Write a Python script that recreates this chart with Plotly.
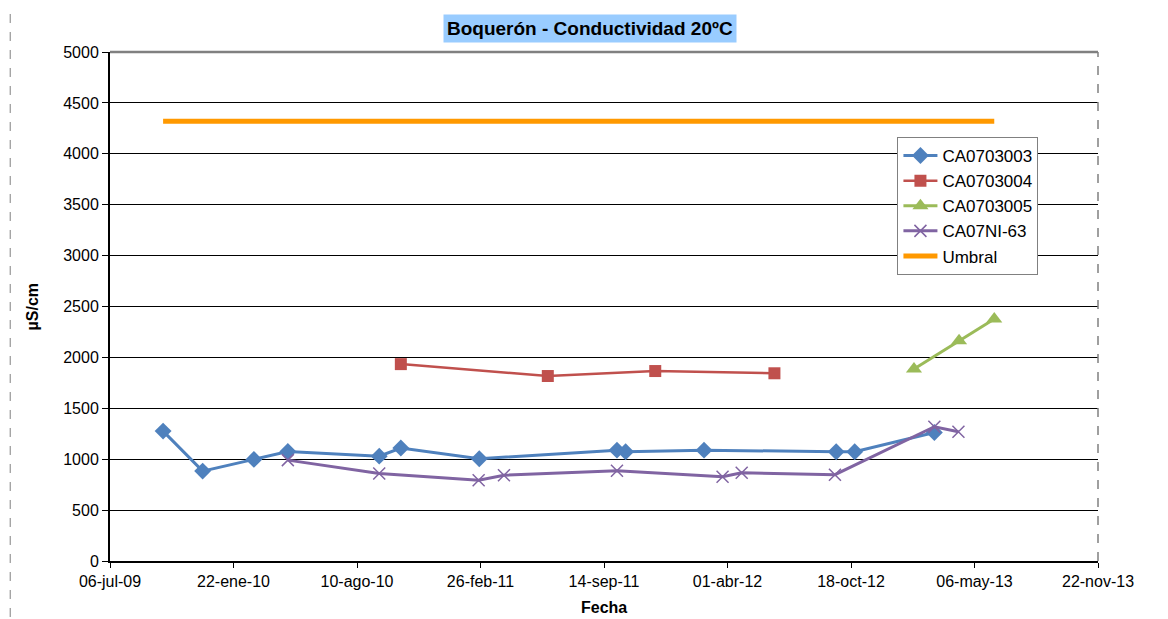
import plotly.graph_objects as go

# ---- data ----
ca0703003_dates = ["2009-09-30", "2009-12-03", "2010-02-24", "2010-04-20", "2010-09-15",
                   "2010-10-20", "2011-02-24", "2011-10-05", "2011-10-19", "2012-02-23",
                   "2012-09-24", "2012-10-24", "2013-03-02"]
ca0703003_vals = [1276, 883, 998, 1075, 1030, 1110, 1004, 1089, 1073, 1089, 1073, 1073, 1262]

ca0703004_dates = ["2010-10-20", "2011-06-15", "2011-12-06", "2012-06-16"]
ca0703004_vals = [1934, 1817, 1866, 1844]

ca0703005_dates = ["2013-01-28", "2013-04-11", "2013-06-07"]
ca0703005_vals = [1886, 2164, 2378]

ca07ni63_dates = ["2010-04-20", "2010-09-15", "2011-02-23", "2011-04-05", "2011-10-05",
                  "2012-03-24", "2012-04-24", "2012-09-22", "2013-03-02", "2013-04-10"]
ca07ni63_vals = [991, 860, 794, 843, 886, 827, 866, 848, 1319, 1269]

umbral_dates = ["2009-09-30", "2013-06-07"]
umbral_vals = [4320, 4320]

x_tick_vals = ["2009-07-06", "2010-01-22", "2010-08-10", "2011-02-26", "2011-09-14",
               "2012-04-01", "2012-10-18", "2013-05-06", "2013-11-22"]
x_tick_text = ["06-jul-09", "22-ene-10", "10-ago-10", "26-feb-11", "14-sep-11",
               "01-abr-12", "18-oct-12", "06-may-13", "22-nov-13"]
y_tick_vals = [0, 500, 1000, 1500, 2000, 2500, 3000, 3500, 4000, 4500, 5000]

FONT = "Arial, Liberation Sans, sans-serif"

fig = go.Figure()
fig.add_trace(go.Scatter(x=ca0703003_dates, y=ca0703003_vals, name="CA0703003",
                         mode="lines+markers",
                         line=dict(color="#4F81BD", width=3),
                         marker=dict(symbol="diamond", size=13, color="#4F81BD")))
fig.add_trace(go.Scatter(x=ca0703004_dates, y=ca0703004_vals, name="CA0703004",
                         mode="lines+markers",
                         line=dict(color="#C0504D", width=2.5),
                         marker=dict(symbol="square", size=12, color="#C0504D")))
fig.add_trace(go.Scatter(x=ca0703005_dates, y=ca0703005_vals, name="CA0703005",
                         mode="lines+markers",
                         line=dict(color="#9BBB59", width=3),
                         marker=dict(symbol="triangle-up", size=14, color="#9BBB59")))
fig.add_trace(go.Scatter(x=ca07ni63_dates, y=ca07ni63_vals, name="CA07NI-63",
                         mode="lines+markers",
                         line=dict(color="#8064A2", width=3),
                         marker=dict(symbol="x-thin", size=12, color="#8064A2",
                                     line=dict(color="#8064A2", width=1.5))))
fig.add_trace(go.Scatter(x=umbral_dates, y=umbral_vals, name="Umbral",
                         mode="lines",
                         line=dict(color="#FF9900", width=5)))

fig.update_layout(
    width=1160, height=611,
    margin=dict(l=102, r=70, t=44, b=58),
    paper_bgcolor="white", plot_bgcolor="white",
    font=dict(family=FONT, size=16, color="black"),
    showlegend=True,
    legend=dict(x=0.797, y=0.833, xanchor="left", yanchor="top",
                bgcolor="white", bordercolor="#808080", borderwidth=1,
                font=dict(family=FONT, size=17, color="black"),
                tracegroupgap=0, itemwidth=34),
    xaxis=dict(type="date", range=["2009-07-06", "2013-11-22"],
               tickmode="array", tickvals=x_tick_vals, ticktext=x_tick_text,
               ticks="outside", ticklen=5, tickcolor="black", tickwidth=1,
               showline=True, linecolor="black", linewidth=2,
               showgrid=False, zeroline=False,
               tickfont=dict(family=FONT, size=16, color="black")),
    yaxis=dict(range=[0, 5000], tickmode="array", tickvals=y_tick_vals,
               ticks="outside", ticklen=6, tickcolor="black", tickwidth=1,
               showline=True, linecolor="black", linewidth=2,
               showgrid=True, gridcolor="black", gridwidth=1, zeroline=False,
               tickfont=dict(family=FONT, size=16, color="black")),
)

# plot area top/right border and page edge line
fig.add_shape(type="line", xref="paper", yref="paper", x0=0, x1=1, y0=1, y1=1,
              line=dict(color="#808080", width=2.5), layer="above")
fig.add_shape(type="line", xref="paper", yref="paper", x0=1, x1=1, y0=0, y1=1,
              line=dict(color="#808080", width=1.5, dash="dash"), layer="above")
fig.add_shape(type="line", xref="paper", yref="paper", x0=-0.101, x1=-0.101, y0=-0.11, y1=1.086,
              line=dict(color="#808080", width=1, dash="dash"), layer="above")

# title box
fig.add_annotation(text="<b>Boquerón - Conductividad 20ºC</b>", xref="paper", yref="paper",
                   x=0.486, y=1.0, yshift=24, xanchor="center", yanchor="middle",
                   showarrow=False, bgcolor="#99CCFF", borderpad=3,
                   font=dict(family=FONT, size=19, color="black"))
# axis titles
fig.add_annotation(text="<b>µS/cm</b>", xref="paper", yref="paper",
                   x=-0.078, y=0.5, xanchor="center", yanchor="middle", textangle=-90,
                   showarrow=False, font=dict(family=FONT, size=16, color="black"))
fig.add_annotation(text="<b>Fecha</b>", xref="paper", yref="paper",
                   x=0.5, y=0, yshift=-46, xanchor="center", yanchor="middle",
                   showarrow=False, font=dict(family=FONT, size=16, color="black"))

fig.write_html("out.html")
